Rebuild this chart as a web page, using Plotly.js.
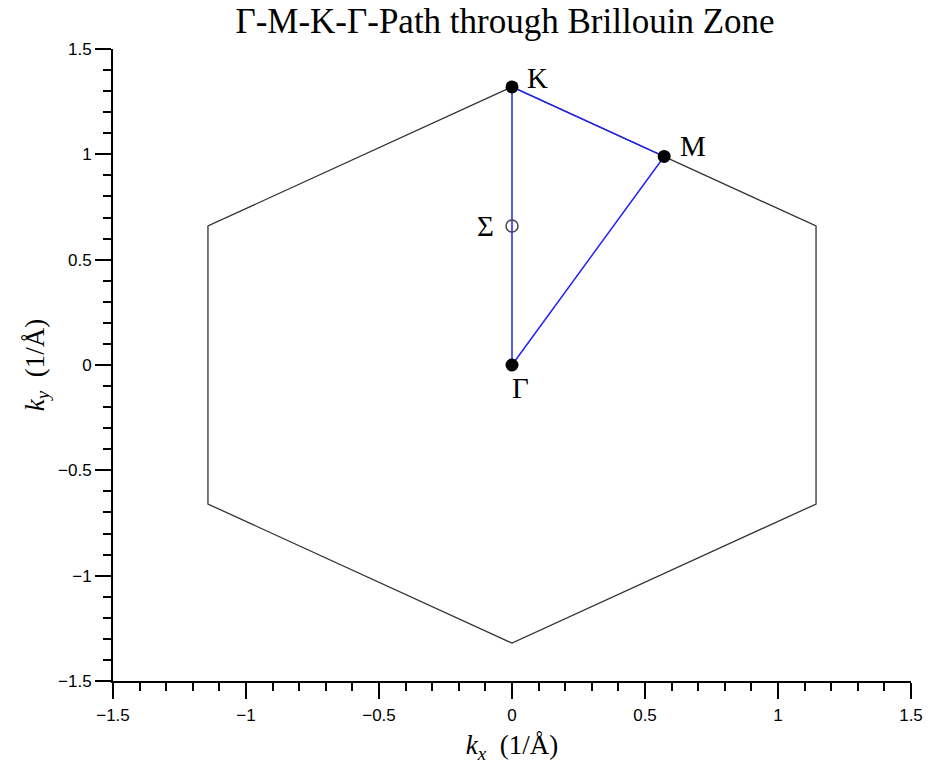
<!DOCTYPE html>
<html>
<head>
<meta charset="utf-8">
<script src="https://cdn.plot.ly/plotly-3.0.1.min.js"></script>
<style>html,body{margin:0;padding:0;background:#fff;}#chart{width:931px;height:769px;}</style>
</head>
<body>
<div id="chart"></div>
<script>
// Brillouin zone hexagon vertices (1/Å)
const hexKx = [0, 1.143, 1.143, 0, -1.143, -1.143, 0];
const hexKy = [1.32, 0.66, -0.66, -1.32, -0.66, 0.66, 1.32];

// High-symmetry points
const pointNames = ['Γ', 'M', 'K'];
const pointKx = [0, 0.572, 0];
const pointKy = [0, 0.99, 1.32];

// Path order Γ-M-K-Γ (indices into the point arrays)
const pathOrder = [0, 1, 2, 0];

// Σ point
const sigmaName = ['Σ'];
const sigmaKx = [0];
const sigmaKy = [0.66];

const pathKx = pathOrder.map(i => pointKx[i]);
const pathKy = pathOrder.map(i => pointKy[i]);

const serif = 'Liberation Serif, Times New Roman, serif';
const sans = 'Liberation Sans, Arial, sans-serif';

const traces = [
  {x: hexKx, y: hexKy, mode: 'lines', line: {color: '#333333', width: 1.3}, hoverinfo: 'skip'},
  {x: pathKx, y: pathKy, mode: 'lines', line: {color: '#2222ff', width: 1.5}, hoverinfo: 'skip'},
  {x: pointKx, y: pointKy, mode: 'markers', marker: {color: '#000000', size: 13}},
  {x: sigmaKx, y: sigmaKy, mode: 'markers', marker: {symbol: 'circle-open', color: '#444444', size: 12, line: {width: 1.5, color: '#444444'}}}
];

const labelShift = {
  'Γ': {xanchor: 'center', xshift: 8, yshift: -23},
  'M': {xanchor: 'left', xshift: 14, yshift: 10},
  'K': {xanchor: 'left', xshift: 13, yshift: 9},
  'Σ': {xanchor: 'right', xshift: -16, yshift: 0}
};

const annotations = [];
pointNames.forEach((n, i) => {
  const s = labelShift[n];
  annotations.push({x: pointKx[i], y: pointKy[i], xref: 'x', yref: 'y', text: n, showarrow: false,
    xanchor: s.xanchor, yanchor: 'middle', xshift: s.xshift, yshift: s.yshift,
    font: {family: serif, size: 29, color: '#000'}});
});
sigmaName.forEach((n, i) => {
  const s = labelShift[n];
  annotations.push({x: sigmaKx[i], y: sigmaKy[i], xref: 'x', yref: 'y', text: n, showarrow: false,
    xanchor: s.xanchor, yanchor: 'middle', xshift: s.xshift, yshift: s.yshift,
    font: {family: serif, size: 29, color: '#000'}});
});

const axisCommon = {
  range: [-1.5, 1.5], dtick: 0.5, tick0: 0,
  showline: true, linecolor: '#000', linewidth: 2,
  ticks: 'outside', ticklen: 16, tickwidth: 2, tickcolor: '#000',
  showgrid: false, zeroline: false, fixedrange: true,
  tickfont: {family: sans, size: 17, color: '#000'},
  minor: {dtick: 0.1, tick0: 0, ticks: 'outside', ticklen: 8, tickwidth: 2, tickcolor: '#000', showgrid: false}
};

const layout = {
  width: 931, height: 769,
  margin: {l: 113, r: 20, t: 49, b: 88},
  paper_bgcolor: '#fff', plot_bgcolor: '#fff',
  showlegend: false,
  title: {text: 'Γ-M-K-Γ-Path through Brillouin Zone', font: {family: serif, size: 35, color: '#000'},
    xref: 'container', x: 0.5424, xanchor: 'center', yref: 'container', y: 0.973, yanchor: 'middle'},
  xaxis: Object.assign({}, axisCommon, {
    ticklabelstandoff: 2,
    title: {text: '<i>k</i><sub><i>x</i></sub>  (1/Å)', font: {family: serif, size: 27, color: '#000'}, standoff: 11}
  }),
  yaxis: Object.assign({}, axisCommon, {
    title: {text: '<i>k</i><sub><i>y</i></sub>  (1/Å)', font: {family: serif, size: 27, color: '#000'}, standoff: 6}
  }),
  annotations: annotations
};

Plotly.newPlot('chart', traces, layout, {displayModeBar: false, staticPlot: true});
</script>
</body>
</html>
